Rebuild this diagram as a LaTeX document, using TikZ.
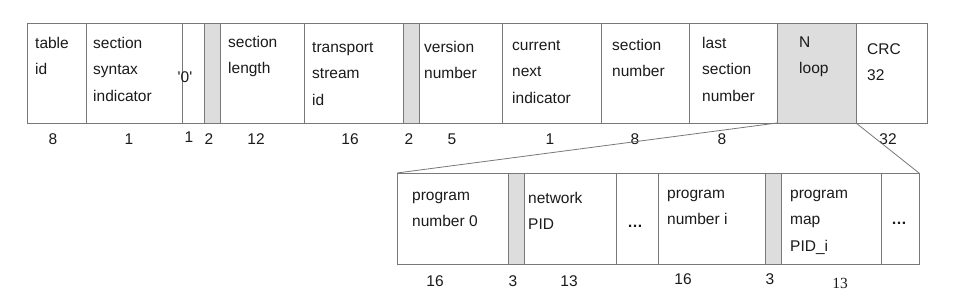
\documentclass[tikz,border=0pt]{standalone}
\usepackage{fontspec}
\setmainfont{Liberation Sans}
\newfontfamily\serifnum{Liberation Serif}
\definecolor{linegray}{HTML}{787878}
\definecolor{fillgray}{HTML}{DDDDDD}
\definecolor{txt}{HTML}{1A1A1A}
\newcommand\lbfont{\fontsize{15.5}{26.5}\selectfont}
\newcommand\topstrut{\rule{0pt}{18.55pt}}
\tikzset{
  cell/.style={draw=linegray, line width=0.9pt, anchor=north west, inner sep=0pt, outer sep=0pt, minimum height=100pt},
  bcell/.style={cell, minimum height=91pt},
  shade/.style={fill=fillgray},
  lbl/.style={anchor=north west, inner sep=0pt, align=left, text=txt, font=\lbfont},
  num/.style={anchor=base, inner sep=0pt, text=txt, font=\lbfont},
  conn/.style={draw=linegray, line width=0.8pt},
}
\begin{document}
\begin{tikzpicture}[x=1pt,y=-1pt]
\useasboundingbox (0,0) rectangle (965,303);
% top row
\node[cell, minimum width=59pt] (c1) at (27,23) {};
\node[cell, minimum width=96pt] (c2) at (86,23) {};
\node[cell, minimum width=22pt] (c3) at (182,23) {};
\node[cell, shade, minimum width=16pt] (c4) at (204,23) {};
\node[cell, minimum width=84pt] (c5) at (220,23) {};
\node[cell, minimum width=99pt] (c6) at (304,23) {};
\node[cell, shade, minimum width=16pt] (c7) at (403,23) {};
\node[cell, minimum width=83pt] (c8) at (419,23) {};
\node[cell, minimum width=99pt] (c9) at (502,23) {};
\node[cell, minimum width=88pt] (c10) at (601,23) {};
\node[cell, minimum width=88pt] (c11) at (689,23) {};
\node[cell, shade, minimum width=79pt] (c12) at (777,23) {};
\node[cell, minimum width=71pt] (c13) at (856,23) {};
% top labels (north = baseline - 18.55)
\node[lbl] (t1) at (35,29.45) {\topstrut table\\id};
\node[lbl] (t2) at (93,29.45) {\topstrut section\\syntax\\indicator};
\node[num] (t3) at (185,82) {\textquotesingle0\textquotesingle};
\node[lbl] (t5) at (228,28.45) {\topstrut section\\length};
\node[lbl] (t6) at (312,33.45) {\topstrut transport\\stream\\id};
\node[lbl] (t8) at (424,33.45) {\topstrut version\\number};
\node[lbl] (t9) at (512,31.45) {\topstrut current\\next\\indicator};
\node[lbl] (t10) at (612,31.45) {\topstrut section\\number};
\node[lbl] (t11) at (702,29.45) {\topstrut last\\section\\number};
\node[lbl] (t12) at (799,28.45) {\topstrut N\\loop};
\node[lbl] (t13) at (867,35.45) {\topstrut CRC\\32};
% top numbers
\node[num] (n1) at (53,144) {8};
\node[num] (n2) at (129,144) {1};
\node[num] (n3) at (189,142) {1};
\node[num] (n4) at (209,144) {2};
\node[num] (n5) at (256,144) {12};
\node[num] (n6) at (350,144) {16};
\node[num] (n7) at (409,144) {2};
\node[num] (n8) at (452,144) {5};
\node[num] (n9) at (550,144) {1};
\node[num] (n10) at (635,144) {8};
\node[num] (n11) at (722,144) {8};
\node[num] (n13) at (888,144) {32};
% bottom row
\node[bcell, minimum width=111pt] (b1) at (397,173) {};
\node[bcell, shade, minimum width=16pt] (b2) at (508,173) {};
\node[bcell, minimum width=92pt] (b3) at (524,173) {};
\node[bcell, minimum width=42pt] (b4) at (616,173) {};
\node[bcell, minimum width=107pt] (b5) at (658,173) {};
\node[bcell, shade, minimum width=16pt] (b6) at (765,173) {};
\node[bcell, minimum width=100pt] (b7) at (781,173) {};
\node[bcell, minimum width=38pt] (b8) at (881,173) {};
% bottom labels
\node[lbl] (l1) at (412,181.45) {\topstrut program\\number 0};
\node[lbl] (l3) at (528,184.45) {\topstrut network\\PID};
\node[num] (l4) at (635,227) {\bfseries …};
\node[lbl] (l5) at (667,179.45) {\topstrut program\\number i};
\node[lbl] (l7) at (790,179.45) {\topstrut program\\map\\PID\_i};
\node[num] (l8) at (899,224) {\bfseries …};
% bottom numbers
\node[num] (m1) at (435,286) {16};
\node[num] (m2) at (513,286) {3};
\node[num] (m3) at (569,286) {13};
\node[num] (m5) at (683,284) {16};
\node[num] (m6) at (770,284) {3};
\node[num, font=\serifnum\lbfont] (m7) at (840,288) {13};
% expansion lines
\draw[conn] (c12.south west) -- (b1.north west);
\draw[conn] (c12.south east) -- (b8.north east);
\end{tikzpicture}
\end{document}
